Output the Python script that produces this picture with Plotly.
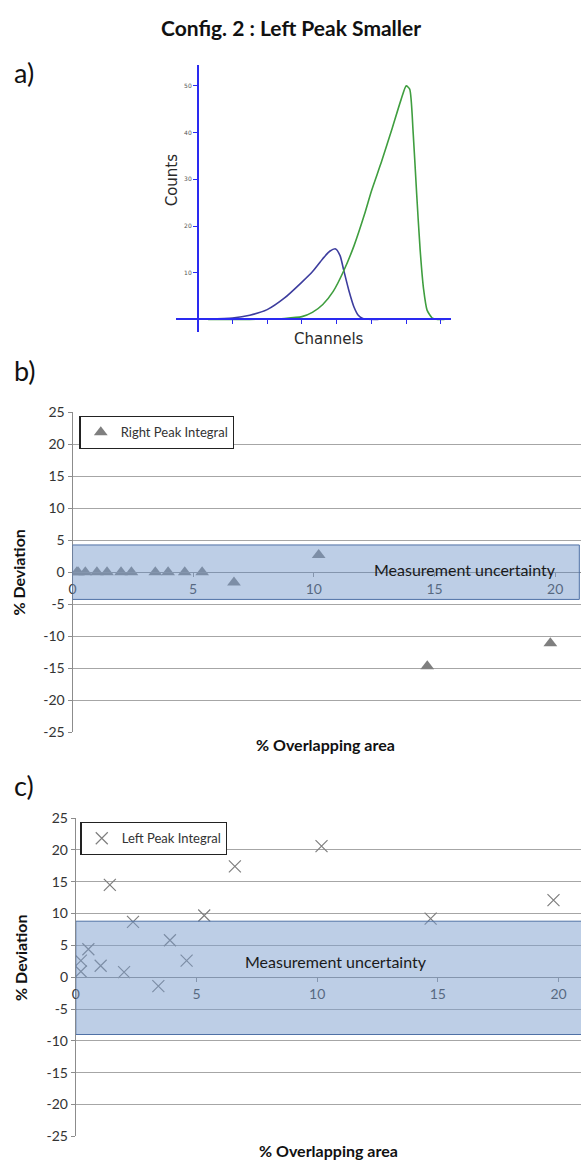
import plotly.graph_objects as go

W, H = 581, 1169

# ---------------- data ----------------
# panel a: spectra (channel units, counts)
left_peak_ch = [0.3, 1.0, 1.5, 2.0, 2.5, 3.0, 3.3, 3.6, 3.8, 3.97, 4.1, 4.2, 4.35, 4.5, 4.62, 4.75, 4.9, 5.2]
left_peak_cnt = [0.05, 0.3, 0.9, 2.1, 4.6, 8.0, 10.2, 13.0, 14.6, 15.1, 13.6, 10.6, 6.2, 2.6, 0.9, 0.2, 0.03, 0.0]
right_peak_ch = [0.3, 1.0, 2.0, 2.5, 3.0, 3.3, 3.6, 3.9, 4.19, 4.5, 4.8, 5.0, 5.3, 5.6, 5.85, 6.0, 6.1, 6.2, 6.3, 6.4, 6.5, 6.6, 6.75, 6.9, 7.1]
right_peak_cnt = [0.0, 0.0, 0.05, 0.2, 0.6, 1.5, 3.2, 6.0, 10.2, 15.8, 22.5, 27.5, 34.0, 41.0, 47.0, 50.0, 49.3, 40.0, 27.0, 15.0, 6.5, 2.0, 0.3, 0.02, 0.0]
a_ytick_vals = [10, 20, 30, 40, 50]
a_xtick_vals = [1, 2, 3, 4, 5, 6, 7]

# panels b and c: % overlapping area vs % deviation
overlap_b = [0.18, 0.23, 0.53, 1.01, 1.43, 2.01, 2.44, 3.43, 3.96, 4.65, 5.37, 6.69, 10.2, 14.7, 19.8]
right_dev = [0, 0, 0, 0, 0, 0, 0, 0, 0, 0, 0, -1.6, 2.7, -14.7, -11.1]
overlap_c = [0.21, 0.21, 0.52, 1.03, 1.41, 2.0, 2.37, 3.42, 3.9, 4.59, 5.32, 6.59, 10.18, 14.7, 19.79]
left_dev = [2.6, 0.9, 4.4, 1.8, 14.5, 0.8, 8.7, -1.4, 5.8, 2.6, 9.7, 17.4, 20.6, 9.2, 12.1]
band_b = [-4.25, 4.25]
band_c = [-9.0, 8.8]
band_x = [0, 21.0]
dev_ticks = [-25, -20, -15, -10, -5, 0, 5, 10, 15, 20, 25]
dev_ticktext = ["-25", "-20", "-15", "-10", "-5", "0", "5", "10", "15", "20", "25"]
overlap_ticks = [0, 5, 10, 15, 20]


def py(y):
    return 1 - y / H


def pxf(x):
    return x / W


fig = go.Figure()

# ---- panel a ----
fig.add_trace(go.Scatter(x=left_peak_ch, y=left_peak_cnt, mode="lines",
                         line=dict(color="#3d3d9e", width=1.6, shape="spline", smoothing=0.6),
                         xaxis="x", yaxis="y", showlegend=False))
fig.add_trace(go.Scatter(x=right_peak_ch, y=right_peak_cnt, mode="lines",
                         line=dict(color="#3f9e3f", width=1.6, shape="spline", smoothing=0.6),
                         xaxis="x", yaxis="y", showlegend=False))

# ---- panel b ----
fig.add_trace(go.Scatter(x=overlap_b, y=right_dev, mode="markers", name="Right Peak Integral",
                         marker=dict(symbol="triangle-up", size=12, color="#7f7f7f"),
                         xaxis="x2", yaxis="y2", legend="legend"))
# ---- panel c ----
fig.add_trace(go.Scatter(x=overlap_c, y=left_dev, mode="markers", name="Left Peak Integral",
                         marker=dict(symbol="x-thin", size=12, color="#7f7f7f",
                                     line=dict(color="#7f7f7f", width=1.2)),
                         xaxis="x3", yaxis="y3", legend="legend2"))

axis_font = dict(family="Lato", size=14, color="#333333")

layout = dict(
    width=W, height=H, margin=dict(l=0, r=0, t=0, b=0),
    paper_bgcolor="white", plot_bgcolor="white",
    # panel a axes
    xaxis=dict(domain=[pxf(173), pxf(450)], range=[-0.629, 7.286], anchor="free",
               position=py(315), showline=True, linecolor="#2a2af0", linewidth=1.5,
               showgrid=False, zeroline=False, tickvals=a_xtick_vals, ticks="outside",
               ticklen=4, tickcolor="#2a2af0", showticklabels=False, fixedrange=True),
    yaxis=dict(domain=[py(328), py(57)], range=[-2.74, 54.43], anchor="free",
               position=pxf(195), showline=True, linecolor="#2a2af0", linewidth=1.5,
               showgrid=False, zeroline=False, tickvals=a_ytick_vals, ticks="outside",
               ticklen=4, tickcolor="#2a2af0",
               tickfont=dict(family="DejaVu Sans", size=6, color="#555555")),
    # panel b axes
    xaxis2=dict(domain=[pxf(69), 1], range=[0, 21.07], anchor="free", position=py(571.5),
                showline=True, linecolor="#8c8c8c", linewidth=1, showgrid=False,
                zeroline=False, tickvals=overlap_ticks, ticks="outside", ticklen=4,
                tickcolor="#8c8c8c", tickfont=axis_font),
    yaxis2=dict(domain=[py(734), py(409)], range=[-25, 25], anchor="x2",
                showline=True, linecolor="#8c8c8c", linewidth=1, showgrid=True,
                gridcolor="#a6a6a6", gridwidth=1, zeroline=False, tickvals=dev_ticks,
                ticktext=dev_ticktext,
                ticks="outside", ticklen=4, tickcolor="#8c8c8c", tickfont=axis_font),
    # panel c axes
    xaxis3=dict(domain=[pxf(72.3), 1], range=[0, 20.93], anchor="free", position=py(982.5),
                showline=True, linecolor="#8c8c8c", linewidth=1, showgrid=False,
                zeroline=False, tickvals=overlap_ticks, ticks="outside", ticklen=4,
                tickcolor="#8c8c8c", tickfont=axis_font),
    yaxis3=dict(domain=[py(1144), py(821)], range=[-25, 25], anchor="x3",
                showline=True, linecolor="#8c8c8c", linewidth=1, showgrid=True,
                gridcolor="#a6a6a6", gridwidth=1, zeroline=False, tickvals=dev_ticks,
                ticktext=dev_ticktext,
                ticks="outside", ticklen=4, tickcolor="#8c8c8c", tickfont=axis_font),
    legend=dict(x=pxf(76), y=py(413), xanchor="left", yanchor="top",
                bordercolor="#222222", borderwidth=1.3, bgcolor="white",
                itemwidth=30,
                font=dict(family="Lato", size=13, color="#333333")),
    legend2=dict(x=pxf(77), y=py(825), xanchor="left", yanchor="top",
                 bordercolor="#222222", borderwidth=1.3, bgcolor="white",
                 itemwidth=30,
                 font=dict(family="Lato", size=13, color="#333333")),
)
fig.update_layout(**layout)

band_style = dict(fillcolor="rgba(123,157,205,0.5)", line=dict(color="#4f71a6", width=1),
                  layer="above")
fig.add_shape(type="rect", xref="x2", yref="y2", x0=band_x[0], x1=band_x[1],
              y0=band_b[0], y1=band_b[1], **band_style)
fig.add_shape(type="rect", xref="x3", yref="y3", x0=band_x[0], x1=band_x[1],
              y0=band_c[0], y1=band_c[1], **band_style)

ann = []


def add_ann(text, x, y, size, family="Lato", color="#111111", angle=0, xref="paper",
            yref="paper", xanchor="center"):
    ann.append(dict(text=text, x=x, y=y, xref=xref, yref=yref, xanchor=xanchor,
                    yanchor="middle", textangle=angle, showarrow=False,
                    font=dict(family=family, size=size, color=color)))


add_ann("<b>Config. 2 : Left Peak Smaller</b>", pxf(289), py(19), 21)
for lbl, yy in [("a)", 64), ("b)", 367), ("c)", 788)]:
    add_ann(lbl, pxf(8), py(yy), 27, xanchor="left")
add_ann("Counts", pxf(170), py(173), 15, family="DejaVu Sans", color="#2a2a2a", angle=-90)
add_ann("Channels", pxf(327), py(335), 15, family="DejaVu Sans", color="#2a2a2a")
add_ann("<b>% Deviation</b>", pxf(15), py(572), 16, angle=-90)
add_ann("<b>% Deviation</b>", pxf(17), py(963), 16, angle=-90)
add_ann("<b>% Overlapping area</b>", pxf(324), py(746), 16)
add_ann("<b>% Overlapping area</b>", pxf(327), py(1158), 16)
add_ann("Measurement uncertainty", 16.27, 0.35, 16, color="#1a1a1a", xref="x2", yref="y2")
add_ann("Measurement uncertainty", 10.8, 2.45, 16, color="#1a1a1a", xref="x3", yref="y3")
fig.update_layout(annotations=ann)

fig.write_html("out.html")
